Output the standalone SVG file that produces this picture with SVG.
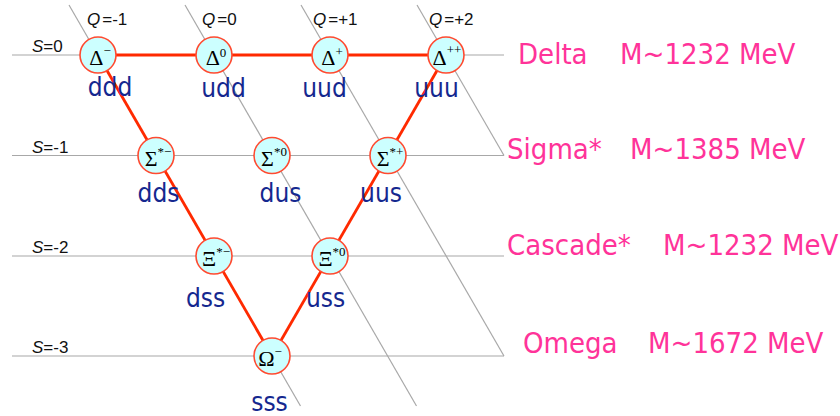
<svg xmlns="http://www.w3.org/2000/svg" width="840" height="416" viewBox="0 0 840 416">
<style>
.grid line{stroke:#a8a8a8;stroke-width:1.2;fill:none}
.edge{stroke:#ff2a00;stroke-width:2.8;fill:none}
.node circle{fill:#ccffff;stroke:#ff4a30;stroke-width:1.6}
.g{font-family:"Liberation Serif","DejaVu Serif",serif;font-size:22px;fill:#000;text-anchor:middle}
.sup{font-size:13px}
.q{font-family:"DejaVu Sans Condensed","DejaVu Sans",sans-serif;font-size:26px;fill:#15288f;text-anchor:middle}
.ax{font-family:"Liberation Sans",Arial,sans-serif;font-size:17px;fill:#111}
.it{font-style:italic}
.pk{font-family:"DejaVu Sans Condensed","DejaVu Sans",sans-serif;font-size:29px;fill:#ff3399}
</style>
<rect width="840" height="416" fill="#ffffff"/>
<g class="grid" id="grid">
<line x1="12" y1="55" x2="504" y2="55"/>
<line x1="12" y1="155.5" x2="504" y2="155.5"/>
<line x1="12" y1="256" x2="504" y2="256"/>
<line x1="12" y1="356" x2="504" y2="356"/>
<line x1="69" y1="5" x2="300.5" y2="406"/>
<line x1="185" y1="5" x2="416.5" y2="406"/>
<line x1="301" y1="5" x2="504" y2="356"/>
<line x1="417" y1="5" x2="504" y2="155.5"/>
</g>
<g id="axis-labels" class="ax">
<text x="87" y="25"><tspan class="it">Q</tspan><tspan dx="2">=-1</tspan></text>
<text x="202" y="25"><tspan class="it">Q</tspan><tspan dx="2">=0</tspan></text>
<text x="313" y="25"><tspan class="it">Q</tspan><tspan dx="2">=+1</tspan></text>
<text x="429" y="25"><tspan class="it">Q</tspan><tspan dx="2">=+2</tspan></text>
<text x="32" y="52"><tspan class="it">S</tspan>=0</text>
<text x="32" y="153"><tspan class="it">S</tspan>=-1</text>
<text x="32" y="253"><tspan class="it">S</tspan>=-2</text>
<text x="32" y="353"><tspan class="it">S</tspan>=-3</text>
</g>
<g id="connectors">
<line class="edge" x1="98" y1="55" x2="446" y2="55"/>
<line class="edge" x1="98" y1="55" x2="272" y2="356"/>
<line class="edge" x1="446" y1="55" x2="272" y2="356"/>
</g>
<g id="delta-minus" class="node"><circle cx="98" cy="55" r="18"/><text class="g" x="100" y="65">Δ<tspan class="sup" dy="-10">−</tspan></text><text class="q" x="110" y="96">ddd</text></g>
<g id="delta-zero" class="node"><circle cx="214" cy="55" r="18"/><text class="g" x="216" y="65">Δ<tspan class="sup" dy="-8">0</tspan></text><text class="q" x="223.5" y="97">udd</text></g>
<g id="delta-plus" class="node"><circle cx="330" cy="55" r="18"/><text class="g" x="332" y="65">Δ<tspan class="sup" dy="-9">+</tspan></text><text class="q" x="324.5" y="97">uud</text></g>
<g id="delta-plusplus" class="node"><circle cx="446" cy="55" r="18"/><text class="g" x="447" y="65">Δ<tspan class="sup" dy="-11">++</tspan></text><text class="q" x="436.5" y="97">uuu</text></g>
<g id="sigma-minus" class="node"><circle cx="156" cy="155.5" r="18"/><text class="g" x="158" y="165.5">Σ<tspan class="sup" dy="-10">*−</tspan></text><text class="q" x="158.5" y="202">dds</text></g>
<g id="sigma-zero" class="node"><circle cx="272" cy="155.5" r="18"/><text class="g" x="274" y="165.5">Σ<tspan class="sup" dy="-10">*0</tspan></text><text class="q" x="280.5" y="202">dus</text></g>
<g id="sigma-plus" class="node"><circle cx="388" cy="155.5" r="18"/><text class="g" x="390" y="165.5">Σ<tspan class="sup" dy="-10">*+</tspan></text><text class="q" x="381" y="202">uus</text></g>
<g id="xi-minus" class="node"><circle cx="214" cy="256" r="18"/><text class="g" x="216" y="266">Ξ<tspan class="sup" dy="-10">*−</tspan></text><text class="q" x="205.5" y="307">dss</text></g>
<g id="xi-zero" class="node"><circle cx="330" cy="256" r="18"/><text class="g" x="332" y="266">Ξ<tspan class="sup" dy="-10">*0</tspan></text><text class="q" x="325.5" y="307">uss</text></g>
<g id="omega-minus" class="node"><circle cx="272" cy="356" r="18"/><text class="g" x="270" y="366">Ω<tspan class="sup" dy="-10">−</tspan></text><text class="q" x="269.5" y="411">sss</text></g>
<g id="mass-labels" class="pk">
<text x="518" y="64">Delta</text><text x="620" y="64">M~1232 MeV</text>
<text x="507" y="159">Sigma*</text><text x="630" y="159">M~1385 MeV</text>
<text x="507" y="255">Cascade*</text><text x="663" y="255">M~1232 MeV</text>
<text x="523" y="353">Omega</text><text x="648" y="353">M~1672 MeV</text>
</g>
</svg>
